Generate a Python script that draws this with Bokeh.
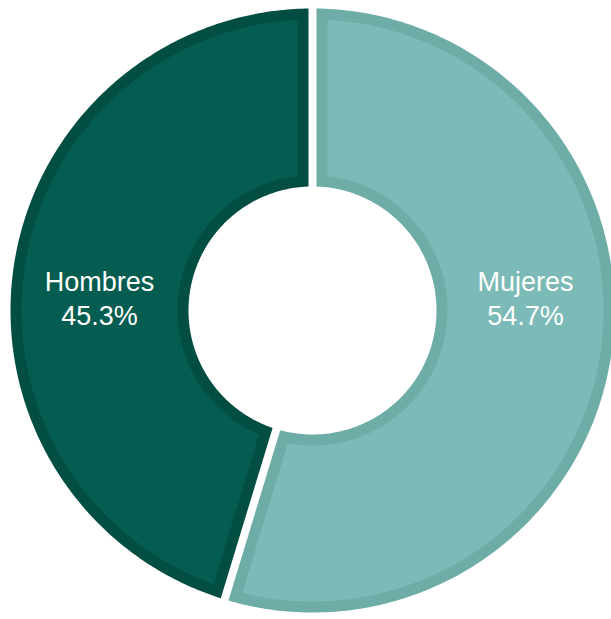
import numpy as np
from bokeh.plotting import figure
from bokeh.models import Range1d, ColumnDataSource
from bokeh.core.properties import value
from bokeh.embed import file_html
from bokeh.resources import INLINE

# ---- data ----
categories = ["Mujeres", "Hombres"]
percentages = [54.7, 45.3]
fill_colors = ["#7BBAB6", "#055C50"]
border_colors = ["#6EACA8", "#034E43"]

# ---- geometry (pixels == data units) ----
W, H = 611, 619
cx, cy = 312, 309
R_out, R_in = 302, 124
half_gap = 4
border = 11


def ring_slice(a1, a2, R, r, g, n=240):
    """polygon of an annular sector from a1 to a2 (CCW, radians) with
    straight edges pulled in by g (parallel gap)."""
    ao1, ao2 = a1 + np.arcsin(g / R), a2 - np.arcsin(g / R)
    ai1, ai2 = a1 + np.arcsin(g / r), a2 - np.arcsin(g / r)
    outer = np.linspace(ao1, ao2, n)
    inner = np.linspace(ai2, ai1, n)
    xs = np.concatenate([cx + R * np.cos(outer), cx + r * np.cos(inner)])
    ys = np.concatenate([cy + R * np.sin(outer), cy + r * np.sin(inner)])
    return list(xs), list(ys)


# angles: start at 12 o'clock, go clockwise
total = sum(percentages)
start = np.pi / 2
bounds = []
for pct in percentages:
    sweep = 2 * np.pi * pct / total
    end = start - sweep
    bounds.append((end, start))  # CCW order
    start = end

outer_xs, outer_ys, inner_xs, inner_ys = [], [], [], []
for a1, a2 in bounds:
    x, y = ring_slice(a1, a2, R_out, R_in, half_gap)
    outer_xs.append(x); outer_ys.append(y)
    x, y = ring_slice(a1, a2, R_out - border, R_in + border, half_gap + border)
    inner_xs.append(x); inner_ys.append(y)

p = figure(width=W, height=H, x_range=Range1d(0, W), y_range=Range1d(0, H),
           output_backend="svg", toolbar_location=None, min_border=0,
           x_axis_type=None, y_axis_type=None)
p.grid.visible = False
p.outline_line_color = None
p.background_fill_color = "white"
p.border_fill_color = "white"

p.patches(outer_xs, outer_ys, fill_color=border_colors, line_color=None)
p.patches(inner_xs, inner_ys, fill_color=fill_colors, line_color=None)

# labels
mid_r = (R_out + R_in) / 2
lab_x = [cx + mid_r, cx - mid_r]
src = ColumnDataSource(dict(
    x=lab_x,
    y1=[cy + 29] * 2,
    y2=[cy - 5] * 2,
    name=categories,
    pct=[f"{v:.1f}%" for v in percentages],
))
p.text(x="x", y="y1", text="name", source=src, text_color="white",
       text_font=value("Liberation Sans"), text_font_size="27px",
       text_align="center", text_baseline="alphabetic")
p.text(x="x", y="y2", text="pct", source=src, text_color="white",
       text_font=value("Liberation Sans"), text_font_size="27px",
       text_align="center", text_baseline="alphabetic")

open("out.html", "w").write(file_html(p, INLINE))
